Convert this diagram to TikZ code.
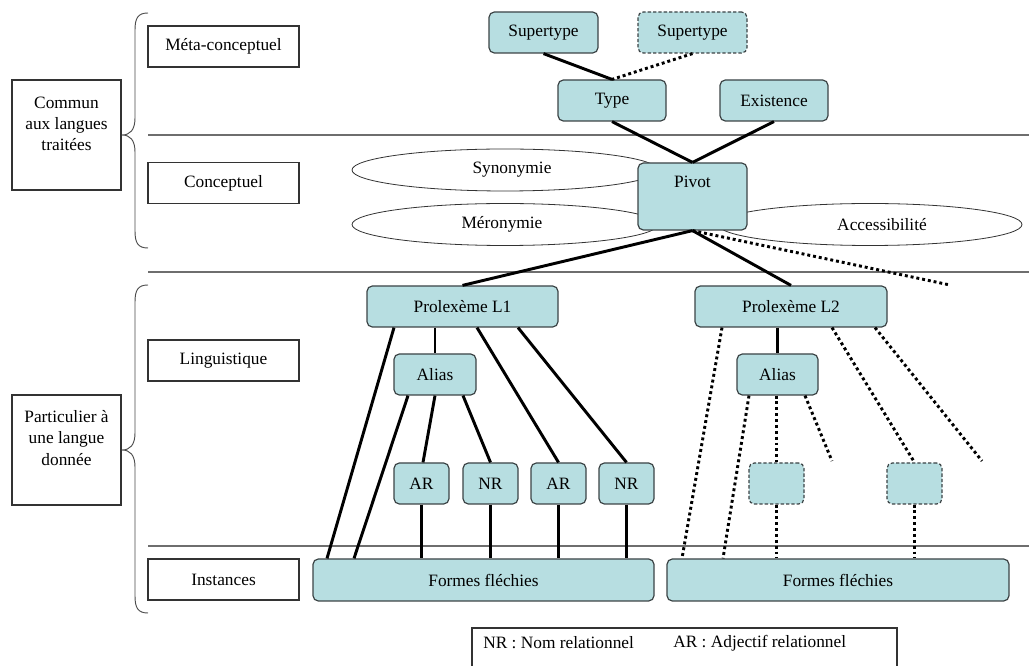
\documentclass[tikz,border=0pt]{standalone}
\usepackage{fontspec}
\setmainfont{Liberation Serif}
\usetikzlibrary{shapes.geometric,calc}
\definecolor{boxfill}{RGB}{183,222,225}
\definecolor{boxline}{RGB}{60,68,70}
\definecolor{rulegray}{RGB}{110,110,110}
\begin{document}
\begin{tikzpicture}[x=0.75pt,y=-0.75pt,
  every node/.style={font=\fontsize{13}{16}\selectfont, inner sep=0pt},
  wh/.style 2 args={minimum width=#1*0.75pt, minimum height=#2*0.75pt},
  bluebox/.style={draw=boxline, fill=boxfill, rounded corners=4pt, line width=0.9pt},
  dashbox/.style={bluebox, dash pattern=on 2.5pt off 1.5pt},
  levelbox/.style={draw=black!80, fill=white, line width=0.8pt},
  link/.style={line width=2.2pt},
  dotlink/.style={line width=2.2pt, dash pattern=on 2.2pt off 2.2pt},
  rulerline/.style={draw=rulegray, line width=1.1pt},
  bracepath/.style={draw=black!70, line width=0.7pt},
  oval/.style={ellipse, draw=black!80, fill=white, line width=0.6pt},
  plain/.style={align=center}]
\fill[white] (0,0) rectangle (1029,666);
\useasboundingbox (0,0) rectangle (1029,666);

% horizontal rules
\draw[rulerline] (148,135) -- (1029,135);
\draw[rulerline] (148,272) -- (1029,272);
\draw[rulerline] (148,546) -- (1029,546);

% braces
\draw[bracepath] (148,13) .. controls (138,13) and (135,18) .. (135,30) -- (135,118)
  .. controls (135,130) and (130,135) .. (122,135)
  .. controls (130,135) and (135,140) .. (135,152) -- (135,231)
  .. controls (135,243) and (138,248) .. (148,248);
\draw[bracepath] (148,285) .. controls (138,285) and (135,290) .. (135,302) -- (135,433)
  .. controls (135,445) and (130,450) .. (122,450)
  .. controls (130,450) and (135,455) .. (135,467) -- (135,596)
  .. controls (135,608) and (138,613) .. (148,613);

% left boxes
\node[levelbox, wh={109}{110}] (commun) at (66.5,135) {};
\node[plain] (communt) at (66.5,124) {Commun\\aux langues\\traitées};
\node[levelbox, wh={109}{110}] (partic) at (66.5,450) {};
\node[plain] (partict) at (66.5,438) {Particulier à\\une langue\\donnée};

% level boxes
\node[levelbox, wh={151}{41}] (meta) at (223.5,46.5) {Méta-conceptuel};
\node[levelbox, wh={151}{41}] (concept) at (223.5,183) {Conceptuel};
\node[levelbox, wh={151}{41}] (ling) at (223.5,360.5) {Linguistique};
\node[levelbox, wh={151}{41}] (inst) at (223.5,579.5) {Instances};

% ellipses
\node[oval, wh={306}{42}] (syn) at (505,170) {};
\node (synt) at (512,170) {Synonymie};
\node[oval, wh={306}{42}] (mero) at (505,224.5) {};
\node (merot) at (502,224.5) {Méronymie};
\node[oval, wh={304}{42}] (acc) at (870,224.5) {};
\node (acct) at (882,224.5) {Accessibilité};

% top nodes
\node[bluebox, wh={109}{41}] (st1) at (543.5,32.5) {Supertype};
\node[dashbox, wh={109}{41}] (st2) at (692.5,32.5) {Supertype};
\node[bluebox, wh={108}{41}] (type) at (612,100.5) {Type};
\node[bluebox, wh={108}{41}] (exist) at (774,100.5) {Existence};
\node[bluebox, wh={109}{67}] (pivot) at (692.5,196.5) {};
\node (pivott) at (692.5,182) {Pivot};

% linguistic nodes
\node[bluebox, wh={191}{41}] (L1) at (462.5,306.5) {Prolexème L1};
\node[bluebox, wh={192}{41}] (L2) at (791,306.5) {Prolexème L2};
\node[bluebox, wh={82}{41}] (aliasA) at (435,374.5) {Alias};
\node[bluebox, wh={81}{41}] (aliasB) at (777.5,374.5) {Alias};
\node[bluebox, wh={55}{41}] (AR1) at (421.5,483.5) {AR};
\node[bluebox, wh={55}{41}] (NR1) at (490.5,483.5) {NR};
\node[bluebox, wh={55}{41}] (AR2) at (558.5,483.5) {AR};
\node[bluebox, wh={55}{41}] (NR2) at (626.5,483.5) {NR};
\node[dashbox, wh={55}{41}] (dash1) at (776.5,483.5) {};
\node[dashbox, wh={55}{41}] (dash2) at (914.5,483.5) {};
\node[bluebox, wh={341}{42}] (FF1) at (483.5,580) {Formes fléchies};
\node[bluebox, wh={342}{42}] (FF2) at (838,580) {Formes fléchies};

% free ends
\coordinate (pivend) at (950,285);
\coordinate (L2end) at (982,461);
\coordinate (aliasBend) at (832,461);

% solid connectors
\draw[link] (st1.south) -- (type.north);
\draw[link] (type.south) -- (pivot.north);
\draw[link] (exist.south) -- (pivot.north);
\draw[link] (pivot.south) -- (L1.north);
\draw[link] (pivot.south) -- (L2.north);
\draw[link] ($(L1.south)+(-68.5,0)$) -- ($(FF1.north)+(-156.5,0)$);
\draw[link] (aliasA.north |- L1.south) -- (aliasA.north);
\draw[link] ($(L1.south)+(14.5,0)$) -- (AR2.north);
\draw[link] ($(L1.south)+(55.5,0)$) -- (NR2.north);
\draw[link] ($(aliasA.south)+(-27,0)$) -- ($(FF1.north)+(-129.5,0)$);
\draw[link] (aliasA.south) -- ($(AR1.north)+(1.5,0)$);
\draw[link] ($(aliasA.south)+(28,0)$) -- (NR1.north);
\draw[link] (AR1.south) -- (AR1.south |- FF1.north);
\draw[link] (NR1.south) -- (NR1.south |- FF1.north);
\draw[link] (AR2.south) -- (AR2.south |- FF1.north);
\draw[link] (NR2.south) -- (NR2.south |- FF1.north);
\draw[link] (aliasB.north |- L2.south) -- (aliasB.north);

% dotted connectors
\draw[dotlink] (st2.south) -- (type.north);
\draw[dotlink] (pivot.south) -- (pivend);
\draw[dotlink] ($(L2.south)+(-69,0)$) -- ($(FF2.north)+(-156,0)$);
\draw[dotlink] ($(L2.south)+(41,0)$) -- (dash2.north);
\draw[dotlink] ($(L2.south)+(84,0)$) -- (L2end);
\draw[dotlink] ($(aliasB.south)+(-28.5,0)$) -- ($(FF2.north)+(-115,0)$);
\draw[dotlink] (dash1.north |- aliasB.south) -- (dash1.north);
\draw[dotlink] ($(aliasB.south)+(27.5,0)$) -- (aliasBend);
\draw[dotlink] (dash1.south) -- (dash1.south |- FF2.north);
\draw[dotlink] (dash2.south) -- (dash2.south |- FF2.north);

% legend
\draw[draw=black!80, line width=0.8pt] (472,670) -- (472,628) -- (897,628) -- (897,670);
\node[anchor=west] (legNR) at (483,643) {NR : Nom relationnel};
\node[anchor=west] (legAR) at (673,643) {AR : Adjectif relationnel};
\end{tikzpicture}
\end{document}
